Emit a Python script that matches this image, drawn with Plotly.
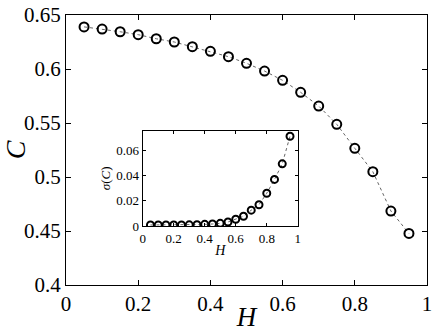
import plotly.graph_objects as go

H = [0.05, 0.10, 0.15, 0.20, 0.25, 0.30, 0.35, 0.40, 0.45, 0.50,
     0.55, 0.60, 0.65, 0.70, 0.75, 0.80, 0.85, 0.90, 0.95]
C = [0.639, 0.637, 0.6345, 0.6318, 0.628, 0.625, 0.6207, 0.6164, 0.6114, 0.6053,
     0.5981, 0.5895, 0.5784, 0.5657, 0.5488, 0.5266, 0.5049, 0.4685, 0.4477]
sigma_C = [0.0008, 0.0008, 0.0008, 0.0008, 0.0008, 0.0009, 0.001, 0.0013, 0.0016, 0.0021,
           0.0032, 0.0053, 0.0077, 0.0125, 0.0168, 0.0259, 0.0368, 0.0491, 0.0709]

main_xticks = [0, 0.2, 0.4, 0.6, 0.8, 1]
main_yticks = [0.4, 0.45, 0.5, 0.55, 0.6, 0.65]
inset_yticks = [0, 0.02, 0.04, 0.06]

serif = "Liberation Serif"


def f(size):
    return dict(family=serif, size=size, color="black")


line = dict(color="#666666", width=1, dash="dot")

fig = go.Figure()
fig.add_trace(go.Scatter(x=H, y=C, mode="lines+markers", line=line,
                         marker=dict(symbol="circle-open", size=9, color="black",
                                     line=dict(width=2, color="black")),
                         xaxis="x", yaxis="y"))
fig.add_trace(go.Scatter(x=H, y=sigma_C, mode="lines+markers", line=line,
                         marker=dict(symbol="circle-open", size=7, color="black",
                                     line=dict(width=2, color="black")),
                         xaxis="x2", yaxis="y2"))

axis_common = dict(showgrid=False, zeroline=False, ticks="inside", mirror="allticks",
                   showline=True, linecolor="black", linewidth=1, tickcolor="black",
                   ticklabeloverflow="allow", automargin=False)

fig.update_layout(
    template="none",
    width=436, height=332,
    margin=dict(l=66, r=9, t=15, b=47),
    paper_bgcolor="white", plot_bgcolor="white",
    showlegend=False,
    font=f(14),
    xaxis=dict(**axis_common, range=[0, 1], tickvals=main_xticks, ticklen=5,
               tickfont=f(21), domain=[0, 1],
               title=dict(text="<i>H</i>", font=f(27), standoff=0)),
    yaxis=dict(**axis_common, range=[0.4, 0.65], tickvals=main_yticks, ticklen=5,
               tickfont=f(21), domain=[0, 1],
               title=dict(text="<i>C</i>", font=f(28), standoff=4)),
    xaxis2=dict(**axis_common, range=[0, 1], tickvals=main_xticks, ticklen=3,
                tickfont=f(13), domain=[0.2125, 0.642], anchor="y2",
                title=dict(text="<i>H</i>", font=f(14), standoff=0)),
    yaxis2=dict(**axis_common, range=[0, 0.0753], tickvals=inset_yticks, ticklen=3,
                tickfont=f(13), domain=[0.2185, 0.5715], anchor="x2",
                title=dict(text="<i>σ</i>(<i>C</i>)", font=f(13), standoff=2)),
)

fig.write_html("out.html", config={"displayModeBar": False},
               post_script="document.body.style.margin='0';")
